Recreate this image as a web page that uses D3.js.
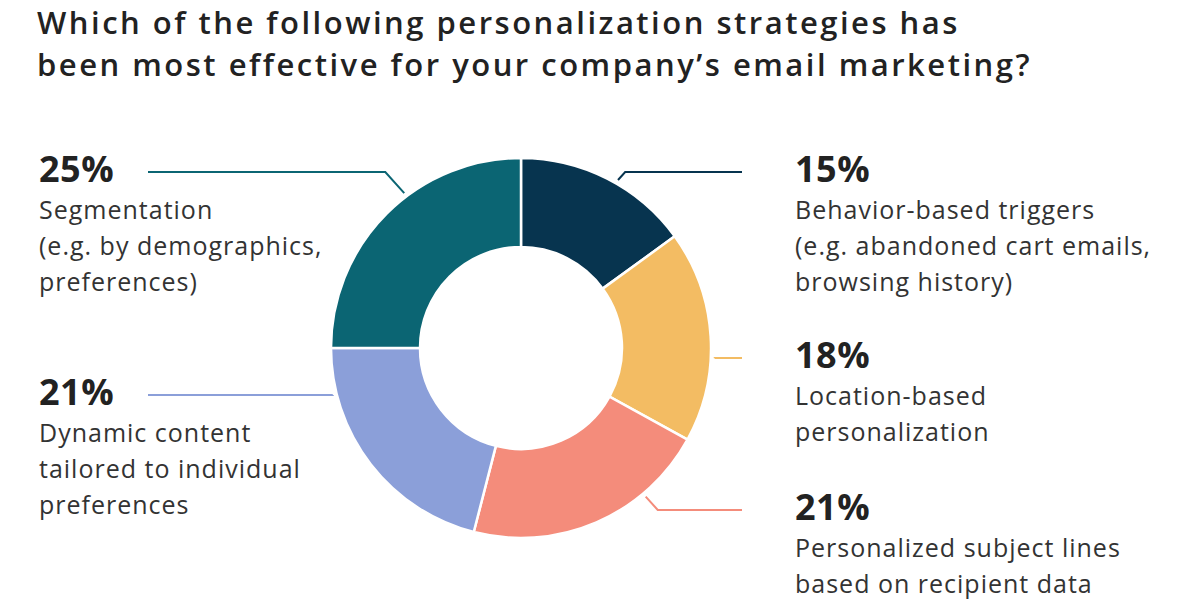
<!DOCTYPE html>
<html>
<head>
<meta charset="utf-8">
<script src="https://cdn.jsdelivr.net/npm/d3@7"></script>
<style>
  html, body { margin: 0; padding: 0; background: #fff; }
  svg { display: block; font-family: "Open Sans", Lato, sans-serif; }
</style>
</head>
<body>
<div id="chart"></div>
<script>
const width = 1200;
const height = 600;

// data, clockwise from 12 o'clock
const strategies = [
  "Behavior-based triggers",
  "Location-based personalization",
  "Personalized subject lines",
  "Dynamic content",
  "Segmentation"
];
const shares = [15, 18, 21, 21, 25];
const labelLines = [
  ["Behavior-based triggers", "(e.g. abandoned cart emails,", "browsing history)"],
  ["Location-based", "personalization"],
  ["Personalized subject lines", "based on recipient data"],
  ["Dynamic content", "tailored to individual", "preferences"],
  ["Segmentation", "(e.g. by demographics,", "preferences)"]
];
const colors = ["#07344f", "#f3bc63", "#f48c7b", "#8b9fd9", "#0b6573"];

const titleLines = [
  "Which of the following personalization strategies has",
  "been most effective for your company\u2019s email marketing?"
];

// layout
const cx = 521, cy = 348;
const outerR = 190, innerR = 101;
const layout = [
  {side: "right", y: 182, angle: 30},
  {side: "right", y: 368, angle: 93},
  {side: "right", y: 520, angle: 140},
  {side: "left", y: 405, angle: 256},
  {side: "left", y: 182, angle: 323}
];
const leftX = 39, rightX = 795;
const lineLeftEnd = 148, lineRightEnd = 742;

const svg = d3.select("#chart")
    .append("svg")
    .attr("width", width)
    .attr("height", height)
    .attr("viewBox", [0, 0, width, height]);

svg.append("text")
    .attr("x", 37)
    .attr("y", 34)
    .attr("fill", "#222")
    .style("font-size", "31px")
    .style("font-weight", 600)
    .style("letter-spacing", "2.5px")
    .selectAll("tspan")
    .data(titleLines)
    .join("tspan")
    .attr("x", 37)
    .attr("dy", (d, i) => i === 0 ? 0 : 42)
    .text(d => d);

const data = strategies.map((s, i) => ({name: s, value: shares[i], color: colors[i], lines: labelLines[i], lay: layout[i]}));

const pie = d3.pie()
    .sort(null)
    .value(d => d.value)
    .startAngle(0)
    .endAngle(2 * Math.PI);

const arc = d3.arc()
    .innerRadius(innerR)
    .outerRadius(outerR);

const g = svg.append("g").attr("transform", `translate(${cx},${cy})`);

g.selectAll("path")
    .data(pie(data))
    .join("path")
    .attr("d", arc)
    .attr("fill", d => d.data.color)
    .attr("stroke", "#fff")
    .attr("stroke-width", 2.5);

// leader lines
svg.append("g")
    .selectAll("polyline")
    .data(data)
    .join("polyline")
    .attr("fill", "none")
    .attr("stroke", d => d.color)
    .attr("stroke-width", 2)
    .attr("points", d => {
      const a = d.lay.angle * Math.PI / 180;
      const r = outerR + 4;
      const ax = cx + r * Math.sin(a);
      const ay = cy - r * Math.cos(a);
      const ly = d.lay.y - 10;
      const dir = d.lay.side === "right" ? 1 : -1;
      const dy = Math.abs(ly - ay);
      const ex = dy < 4 ? ax : ax + dir * dy * 0.9;
      const endX = d.lay.side === "right" ? lineRightEnd : lineLeftEnd;
      return [[ax, ay], [ex, ly], [endX, ly]].map(p => p.join(",")).join(" ");
    });

// labels
const labels = svg.append("g")
    .selectAll("g")
    .data(data)
    .join("g")
    .attr("transform", d => `translate(${d.lay.side === "right" ? rightX : leftX},${d.lay.y})`);

labels.append("text")
    .attr("fill", "#222")
    .style("font-size", "36px")
    .style("font-weight", 700)
    .style("letter-spacing", "0.5px")
    .text(d => d.value + "%");

labels.append("text")
    .attr("fill", "#333")
    .style("font-size", "25px")
    .style("letter-spacing", "1px")
    .selectAll("tspan")
    .data(d => d.lines)
    .join("tspan")
    .attr("x", 0)
    .attr("y", (d, i) => 37 + i * 36)
    .text(d => d);
</script>
</body>
</html>
